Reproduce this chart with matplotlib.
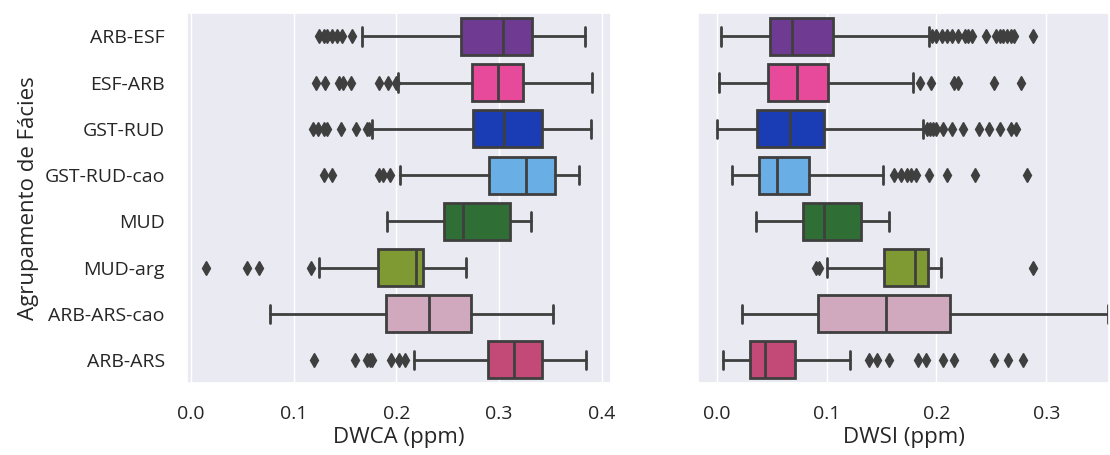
import matplotlib
matplotlib.use("Agg")
import matplotlib.pyplot as plt
import seaborn as sns

sns.set_theme(style="darkgrid")
plt.rcParams['font.family'] = ['Open Sans', 'DejaVu Sans']

groups = ['ARB-ESF', 'ESF-ARB', 'GST-RUD', 'GST-RUD-cao', 'MUD', 'MUD-arg', 'ARB-ARS-cao', 'ARB-ARS']
colors = ['#6f3a91', '#e84a9b', '#1a3db5', '#6aaee6', '#2f6e35', '#809a33', '#d0a9bf', '#c34a76']

# DWCA (ppm): whisker low, q1, median, q3, whisker high
dwca_whislo = [0.166, 0.201, 0.176, 0.203, 0.191, 0.125, 0.077, 0.217]
dwca_q1 = [0.263, 0.274, 0.275, 0.290, 0.246, 0.182, 0.190, 0.289]
dwca_med = [0.304, 0.299, 0.305, 0.326, 0.265, 0.219, 0.232, 0.314]
dwca_q3 = [0.332, 0.323, 0.342, 0.354, 0.311, 0.226, 0.273, 0.342]
dwca_whishi = [0.384, 0.390, 0.389, 0.378, 0.331, 0.268, 0.352, 0.385]
dwca_fliers = [
    [0.125, 0.129, 0.132, 0.137, 0.142, 0.147, 0.157],
    [0.122, 0.130, 0.144, 0.148, 0.156, 0.183, 0.192, 0.200],
    [0.119, 0.124, 0.129, 0.132, 0.146, 0.161, 0.171, 0.173],
    [0.129, 0.137, 0.183, 0.187, 0.194],
    [],
    [0.014, 0.054, 0.066, 0.117],
    [],
    [0.120, 0.160, 0.171, 0.174, 0.176, 0.195, 0.202, 0.208],
]

# DWSI (ppm)
dwsi_whislo = [0.004, 0.002, 0.000, 0.014, 0.036, 0.100, 0.023, 0.006]
dwsi_q1 = [0.048, 0.047, 0.037, 0.038, 0.078, 0.152, 0.092, 0.030]
dwsi_med = [0.068, 0.073, 0.067, 0.055, 0.098, 0.180, 0.154, 0.044]
dwsi_q3 = [0.106, 0.101, 0.098, 0.084, 0.131, 0.192, 0.212, 0.071]
dwsi_whishi = [0.193, 0.179, 0.188, 0.151, 0.157, 0.204, 0.356, 0.121]
dwsi_fliers = [
    [0.196, 0.200, 0.205, 0.210, 0.214, 0.220, 0.226, 0.229, 0.232, 0.245,
     0.254, 0.258, 0.261, 0.264, 0.268, 0.271, 0.288],
    [0.185, 0.195, 0.216, 0.220, 0.252, 0.277],
    [0.191, 0.194, 0.197, 0.200, 0.206, 0.214, 0.224, 0.239, 0.248, 0.258, 0.268, 0.272],
    [0.161, 0.168, 0.173, 0.177, 0.181, 0.193, 0.210, 0.235, 0.282],
    [],
    [0.090, 0.093, 0.288],
    [],
    [0.139, 0.146, 0.157, 0.183, 0.190, 0.206, 0.216, 0.252, 0.265, 0.279],
]


def make_stats(lo, q1, med, q3, hi, fl):
    stats = []
    for i in range(len(groups)):
        stats.append({'whislo': lo[i], 'q1': q1[i], 'med': med[i], 'q3': q3[i],
                      'whishi': hi[i], 'fliers': fl[i], 'label': groups[i]})
    return stats


def draw(ax, stats):
    edge = '#3f3f3f'
    bp = ax.bxp(stats, positions=range(len(groups)), widths=0.8, vert=False,
                patch_artist=True, manage_ticks=False,
                boxprops=dict(edgecolor=edge, linewidth=2),
                medianprops=dict(color=edge, linewidth=2),
                whiskerprops=dict(color=edge, linewidth=2),
                capprops=dict(color=edge, linewidth=2),
                flierprops=dict(marker='d', markerfacecolor=edge, markeredgecolor=edge,
                                markersize=7.5, linestyle='none'))
    for patch, c in zip(bp['boxes'], colors):
        patch.set_facecolor(c)
    ax.set_ylim(len(groups) - 0.5, -0.5)
    ax.grid(False, axis='y')
    ax.tick_params(labelsize=14, pad=10)


fig = plt.figure(figsize=(11.1, 4.55), dpi=100)
ax1 = fig.add_axes([0.1685, 0.158, 0.382, 0.813])
ax2 = fig.add_axes([0.629, 0.158, 0.370, 0.813])

draw(ax1, make_stats(dwca_whislo, dwca_q1, dwca_med, dwca_q3, dwca_whishi, dwca_fliers))
draw(ax2, make_stats(dwsi_whislo, dwsi_q1, dwsi_med, dwsi_q3, dwsi_whishi, dwsi_fliers))

ax1.set_yticks(range(len(groups)))
ax1.set_yticklabels(groups)
ax2.set_yticks(range(len(groups)))
ax2.set_yticklabels([])

ax1.set_xlim(-0.004, 0.409)
ax2.set_xlim(-0.017, 0.357)
ax1.set_xticks([0.0, 0.1, 0.2, 0.3, 0.4])
ax2.set_xticks([0.0, 0.1, 0.2, 0.3])

ax1.set_xlabel('DWCA (ppm)', fontsize=16, labelpad=3)
ax2.set_xlabel('DWSI (ppm)', fontsize=16, labelpad=3)
ax1.set_ylabel('Agrupamento de Fácies', fontsize=16, labelpad=4)

fig.savefig('out.png', dpi=100)
